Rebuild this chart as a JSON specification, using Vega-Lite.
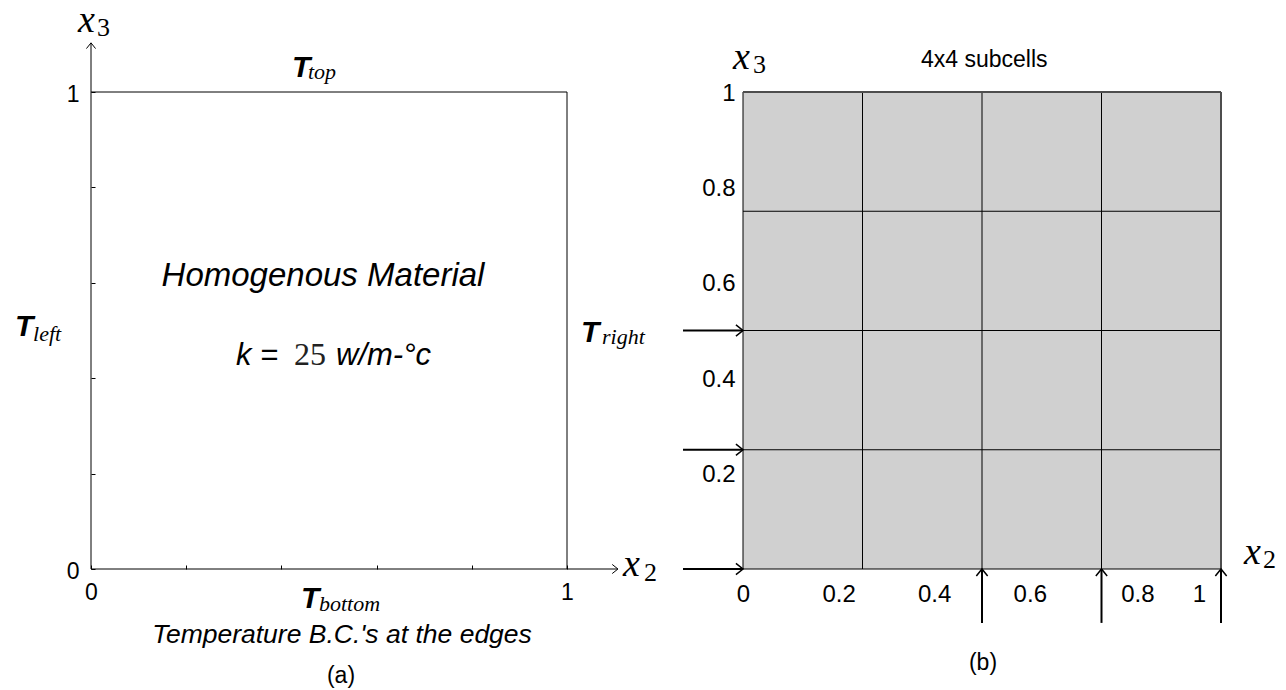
{
  "$schema": "https://vega.github.io/schema/vega-lite/v6.json",
  "autosize": {"type": "pad"},
  "padding": {"left": 14, "top": 1, "right": 0, "bottom": 0},
  "background": "white",
  "bounds": "flush",
  "spacing": 176,
  "config": {
    "view": {"stroke": null},
    "font": "Liberation Sans",
    "axis": {"labelFont": "Liberation Sans", "labelColor": "black", "labelFontSize": 23, "grid": false, "domain": false, "labelFlush": false, "labelOverlap": false, "format": "~g"}
  },
  "datasets": {
    "frameEdges": [
      {"x": 0, "y": 1, "x2": 1, "y2": 1},
      {"x": 1, "y": 0, "x2": 1, "y2": 1}
    ],
    "axisArrows": [
      {"x": 0, "y": 0, "x2": 0, "y2": 1.103},
      {"x": 0, "y": 0, "x2": 1.107, "y2": 0}
    ],
    "axisHeadUp": [{"x": 0, "y": 1.103}],
    "axisHeadRight": [{"x": 1.107, "y": 0}],
    "lAxisLetters": [
      {"x": -0.0273, "y": 1.1258, "label": "x"},
      {"x": 1.1176, "y": -0.0147, "label": "x"}
    ],
    "lAxisIndices": [
      {"x": 0.0126, "y": 1.118, "label": "3"},
      {"x": 1.1618, "y": -0.0252, "label": "2"}
    ],
    "lTemps": [
      {"x": 0.4223, "y": 1.0314, "label": "T"},
      {"x": 0.4412, "y": -0.0818, "label": "T"},
      {"x": -0.1597, "y": 0.4885, "label": "T"},
      {"x": 1.0294, "y": 0.4759, "label": "T"}
    ],
    "lTempSubs": [
      {"x": 0.4559, "y": 1.0273, "label": "top"},
      {"x": 0.479, "y": -0.088, "label": "bottom"},
      {"x": -0.1218, "y": 0.478, "label": "left"},
      {"x": 1.0735, "y": 0.4717, "label": "right"}
    ],
    "lTitle": [{"x": 0.4874, "y": 0.5933, "label": "Homogenous Material"}],
    "lKText": [
      {"x": 0.3046, "y": 0.4277, "label": "k ="},
      {"x": 0.5147, "y": 0.4277, "label": "w/m-°c"}
    ],
    "lKValue": [{"x": 0.4265, "y": 0.4277, "label": "25"}],
    "lCaption": [{"x": 0.5273, "y": -0.1551, "label": "Temperature B.C.'s at the edges"}],
    "lTag": [{"x": 0.5252, "y": -0.239, "label": "(a)"}],
    "cell": [{"x": 0, "y": 0, "x2": 1, "y2": 1}],
    "cellLines": [
      {"x": 0, "y": 0, "x2": 0, "y2": 1},
      {"x": 0.25, "y": 0, "x2": 0.25, "y2": 1},
      {"x": 0.5, "y": 0, "x2": 0.5, "y2": 1},
      {"x": 0.75, "y": 0, "x2": 0.75, "y2": 1},
      {"x": 0, "y": 0, "x2": 1, "y2": 0},
      {"x": 0, "y": 0.25, "x2": 1, "y2": 0.25},
      {"x": 0, "y": 0.5, "x2": 1, "y2": 0.5},
      {"x": 0, "y": 0.75, "x2": 1, "y2": 0.75}
    ],
    "outerEdges": [
      {"x": 0, "y": 1, "x2": 1, "y2": 1},
      {"x": 1, "y": 0, "x2": 1, "y2": 1}
    ],
    "inflowArrows": [
      {"x": -0.1255, "y": 0, "x2": 0, "y2": 0},
      {"x": -0.1255, "y": 0.25, "x2": 0, "y2": 0.25},
      {"x": -0.1255, "y": 0.5, "x2": 0, "y2": 0.5},
      {"x": 0.5, "y": -0.113, "x2": 0.5, "y2": 0},
      {"x": 0.75, "y": -0.113, "x2": 0.75, "y2": 0},
      {"x": 1, "y": -0.113, "x2": 1, "y2": 0}
    ],
    "inflowHeadRight": [
      {"x": 0, "y": 0},
      {"x": 0, "y": 0.25},
      {"x": 0, "y": 0.5}
    ],
    "inflowHeadUp": [
      {"x": 0.5, "y": 0},
      {"x": 0.75, "y": 0},
      {"x": 1, "y": 0}
    ],
    "rAxisLetters": [
      {"x": -0.0209, "y": 1.0482, "label": "x"},
      {"x": 1.0481, "y": 0.0105, "label": "x"}
    ],
    "rAxisIndices": [
      {"x": 0.0209, "y": 1.0398, "label": "3"},
      {"x": 1.0879, "y": 0.0021, "label": "2"}
    ],
    "rTitle": [{"x": 0.3724, "y": 1.0524, "label": "4x4 subcells"}],
    "rTag": [{"x": 0.5021, "y": -0.2117, "label": "(b)"}]
  },
  "hconcat": [
    {
      "width": 476,
      "height": 477,
      "encoding": {
        "x": {
          "field": "x", "type": "quantitative", "title": null,
          "scale": {"domain": [0, 1], "nice": false, "zero": false},
          "axis": {
            "values": [0, 0.2, 0.4, 0.6, 0.8, 1],
            "labelExpr": "datum.value == 0 || datum.value == 1 ? datum.label : ''",
            "tickSize": -4, "tickColor": "black", "tickWidth": 1,
            "labelPadding": 16
          }
        },
        "y": {
          "field": "y", "type": "quantitative", "title": null,
          "scale": {"domain": [0, 1], "nice": false, "zero": false},
          "axis": {
            "values": [0, 0.2, 0.4, 0.6, 0.8, 1],
            "labelExpr": "datum.value == 0 || datum.value == 1 ? datum.label : ''",
            "tickSize": -4, "tickColor": "black", "tickWidth": 1,
            "labelPadding": 16, "labelBaseline": "middle", "labelOffset": 2
          }
        }
      },
      "layer": [
        {
          "data": {"name": "frameEdges"},
          "mark": {"type": "rule", "color": "black", "strokeWidth": 1},
          "encoding": {"x2": {"field": "x2"}, "y2": {"field": "y2"}}
        },
        {
          "data": {"name": "axisArrows"},
          "mark": {"type": "rule", "color": "black", "strokeWidth": 1},
          "encoding": {"x2": {"field": "x2"}, "y2": {"field": "y2"}}
        },
        {
          "data": {"name": "axisHeadUp"},
          "mark": {"type": "point", "shape": "M-1,-0.8L0,0L-1,0.8", "size": 130, "angle": 270, "filled": false, "color": "black", "opacity": 1, "strokeWidth": 1}
        },
        {
          "data": {"name": "axisHeadRight"},
          "mark": {"type": "point", "shape": "M-1,-0.8L0,0L-1,0.8", "size": 130, "angle": 0, "filled": false, "color": "black", "opacity": 1, "strokeWidth": 1}
        },
        {
          "data": {"name": "lAxisLetters"},
          "mark": {"type": "text", "font": "Liberation Serif", "fontStyle": "italic", "fontSize": 38, "align": "left", "baseline": "alphabetic", "color": "black"},
          "encoding": {"text": {"field": "label"}}
        },
        {
          "data": {"name": "lAxisIndices"},
          "mark": {"type": "text", "font": "Liberation Serif", "fontSize": 26, "align": "left", "baseline": "alphabetic", "color": "black"},
          "encoding": {"text": {"field": "label"}}
        },
        {
          "data": {"name": "lTemps"},
          "mark": {"type": "text", "font": "Liberation Sans", "fontStyle": "italic", "fontWeight": "bold", "fontSize": 30, "align": "left", "baseline": "alphabetic", "color": "black"},
          "encoding": {"text": {"field": "label"}}
        },
        {
          "data": {"name": "lTempSubs"},
          "mark": {"type": "text", "font": "Liberation Serif", "fontStyle": "italic", "fontSize": 22, "align": "left", "baseline": "alphabetic", "color": "black"},
          "encoding": {"text": {"field": "label"}}
        },
        {
          "data": {"name": "lTitle"},
          "mark": {"type": "text", "font": "Liberation Sans", "fontStyle": "italic", "fontSize": 33, "align": "center", "baseline": "alphabetic", "color": "black"},
          "encoding": {"text": {"field": "label"}}
        },
        {
          "data": {"name": "lKText"},
          "mark": {"type": "text", "font": "Liberation Sans", "fontStyle": "italic", "fontSize": 31, "align": "left", "baseline": "alphabetic", "color": "black"},
          "encoding": {"text": {"field": "label"}}
        },
        {
          "data": {"name": "lKValue"},
          "mark": {"type": "text", "font": "Liberation Serif", "fontSize": 32, "align": "left", "baseline": "alphabetic", "color": "#222222"},
          "encoding": {"text": {"field": "label"}}
        },
        {
          "data": {"name": "lCaption"},
          "mark": {"type": "text", "font": "Liberation Sans", "fontStyle": "italic", "fontSize": 26.5, "align": "center", "baseline": "alphabetic", "color": "black"},
          "encoding": {"text": {"field": "label"}}
        },
        {
          "data": {"name": "lTag"},
          "mark": {"type": "text", "font": "Liberation Sans", "fontSize": 23, "align": "center", "baseline": "alphabetic", "color": "black"},
          "encoding": {"text": {"field": "label"}}
        }
      ]
    },
    {
      "width": 478,
      "height": 477,
      "encoding": {
        "x": {
          "field": "x", "type": "quantitative", "title": null,
          "scale": {"domain": [0, 1], "nice": false, "zero": false},
          "axis": {
            "values": [0, 0.2, 0.4, 0.6, 0.8, 1],
            "ticks": false,
            "labelFontSize": 24,
            "labelPadding": 13,
            "labelOffset": {"condition": [{"test": "datum.value == 1", "value": -22}, {"test": "abs(datum.value - 0.8) < 0.001", "value": 12}], "value": 0}
          }
        },
        "y": {
          "field": "y", "type": "quantitative", "title": null,
          "scale": {"domain": [0, 1], "nice": false, "zero": false},
          "axis": {
            "values": [0.2, 0.4, 0.6, 0.8, 1],
            "ticks": false,
            "labelFontSize": 24,
            "labelPadding": 8, "labelBaseline": "middle", "labelOffset": 1
          }
        }
      },
      "layer": [
        {
          "data": {"name": "cell"},
          "mark": {"type": "rect", "color": "#d0d0d0", "opacity": 1},
          "encoding": {"x2": {"field": "x2"}, "y2": {"field": "y2"}}
        },
        {
          "data": {"name": "cellLines"},
          "mark": {"type": "rule", "color": "black", "strokeWidth": 1},
          "encoding": {"x2": {"field": "x2"}, "y2": {"field": "y2"}}
        },
        {
          "data": {"name": "outerEdges"},
          "mark": {"type": "rule", "color": "#4d4d4d", "strokeWidth": 2},
          "encoding": {"x2": {"field": "x2"}, "y2": {"field": "y2"}}
        },
        {
          "data": {"name": "inflowArrows"},
          "mark": {"type": "rule", "color": "black", "strokeWidth": 2},
          "encoding": {"x2": {"field": "x2"}, "y2": {"field": "y2"}}
        },
        {
          "data": {"name": "inflowHeadRight"},
          "mark": {"type": "point", "shape": "M-1,-0.8L0,0L-1,0.8", "size": 200, "angle": 0, "filled": false, "color": "black", "opacity": 1, "strokeWidth": 1.5}
        },
        {
          "data": {"name": "inflowHeadUp"},
          "mark": {"type": "point", "shape": "M-1,-0.8L0,0L-1,0.8", "size": 200, "angle": 270, "filled": false, "color": "black", "opacity": 1, "strokeWidth": 1.5}
        },
        {
          "data": {"name": "rAxisLetters"},
          "mark": {"type": "text", "font": "Liberation Serif", "fontStyle": "italic", "fontSize": 38, "align": "left", "baseline": "alphabetic", "color": "black"},
          "encoding": {"text": {"field": "label"}}
        },
        {
          "data": {"name": "rAxisIndices"},
          "mark": {"type": "text", "font": "Liberation Serif", "fontSize": 26, "align": "left", "baseline": "alphabetic", "color": "black"},
          "encoding": {"text": {"field": "label"}}
        },
        {
          "data": {"name": "rTitle"},
          "mark": {"type": "text", "font": "Liberation Sans", "fontSize": 23, "align": "left", "baseline": "alphabetic", "color": "black"},
          "encoding": {"text": {"field": "label"}}
        },
        {
          "data": {"name": "rTag"},
          "mark": {"type": "text", "font": "Liberation Sans", "fontSize": 23, "align": "center", "baseline": "alphabetic", "color": "black"},
          "encoding": {"text": {"field": "label"}}
        }
      ]
    }
  ]
}
